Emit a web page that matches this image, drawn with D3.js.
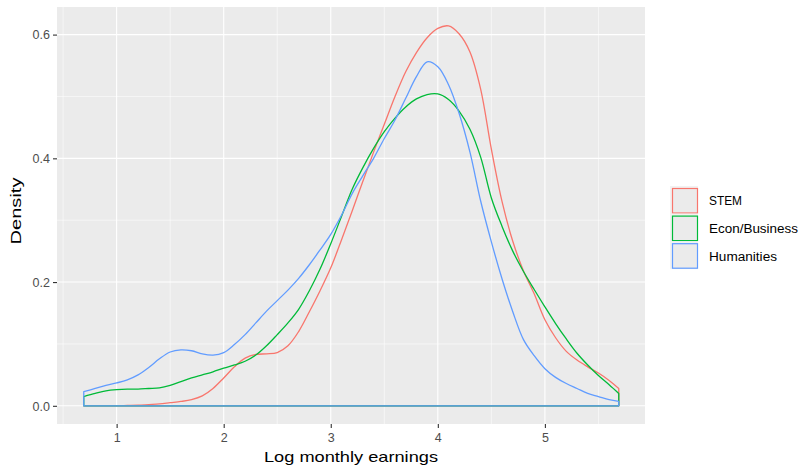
<!DOCTYPE html>
<html>
<head>
<meta charset="utf-8">
<script src="https://cdn.jsdelivr.net/npm/d3@7"></script>
<style>
  html, body { margin: 0; padding: 0; background: #ffffff; }
  svg { display: block; font-family: "Liberation Sans", Arial, Helvetica, sans-serif; }
</style>
</head>
<body>
<svg id="chart" width="803" height="468"></svg>
<script>
// ---------------- data ----------------
const categories = ["STEM", "Econ/Business", "Humanities"];
const colors = ["#F8766D", "#00BA38", "#619CFF"];

const xGrid = [0.693, 0.8, 0.9, 1.0, 1.1, 1.2, 1.3, 1.4, 1.5, 1.6, 1.7, 1.8, 1.9, 2.0,
  2.1, 2.2, 2.3, 2.4, 2.5, 2.6, 2.7, 2.8, 2.9, 3.0, 3.1, 3.2, 3.3, 3.4, 3.5, 3.6,
  3.7, 3.8, 3.9, 4.0, 4.1, 4.2, 4.3, 4.4, 4.5, 4.6, 4.7, 4.8, 4.9, 5.0, 5.1, 5.2,
  5.3, 5.4, 5.5, 5.6, 5.69];

const stemDensity = [0.0, 0.0, 0.0, 0.0, 0.0005, 0.001, 0.002, 0.003, 0.005, 0.007,
  0.010, 0.016, 0.028, 0.045, 0.063, 0.077, 0.083, 0.084, 0.086, 0.097, 0.120,
  0.152, 0.186, 0.223, 0.268, 0.315, 0.363, 0.410, 0.455, 0.500, 0.540, 0.571,
  0.595, 0.610, 0.614, 0.601, 0.572, 0.512, 0.415, 0.330, 0.266, 0.218, 0.181,
  0.139, 0.110, 0.088, 0.074, 0.063, 0.053, 0.041, 0.028];

const econDensity = [0.015, 0.020, 0.024, 0.026, 0.027, 0.027, 0.028, 0.029, 0.033,
  0.039, 0.045, 0.050, 0.055, 0.061, 0.066, 0.072, 0.082, 0.097, 0.115, 0.134,
  0.156, 0.186, 0.221, 0.262, 0.306, 0.350, 0.385, 0.416, 0.443, 0.465, 0.483,
  0.496, 0.503, 0.504, 0.495, 0.476, 0.447, 0.402, 0.336, 0.290, 0.250, 0.217,
  0.188, 0.160, 0.133, 0.108, 0.085, 0.066, 0.049, 0.034, 0.020];

const humanitiesDensity = [0.023, 0.028, 0.033, 0.037, 0.042, 0.050, 0.062, 0.076,
  0.087, 0.0905, 0.089, 0.084, 0.082, 0.086, 0.099, 0.115, 0.134, 0.153, 0.170,
  0.187, 0.206, 0.228, 0.252, 0.277, 0.308, 0.343, 0.372, 0.400, 0.432, 0.462,
  0.497, 0.532, 0.556, 0.548, 0.519, 0.472, 0.410, 0.331, 0.265, 0.205, 0.152,
  0.107, 0.081, 0.060, 0.046, 0.036, 0.028, 0.020, 0.015, 0.010, 0.007];

const xTicks = [1, 2, 3, 4, 5];
const xMinor = [0.5, 1.5, 2.5, 3.5, 4.5, 5.5];
const yTicks = [0.0, 0.2, 0.4, 0.6];
const yMinor = [0.1, 0.3, 0.5];
const xTitle = "Log monthly earnings";
const yTitle = "Density";

const seriesValues = [stemDensity, econDensity, humanitiesDensity];

// ---------------- layout ----------------
const svg = d3.select("#chart");
const panel = { left: 57, right: 645, top: 7, bottom: 424 };

const x = d3.scaleLinear().domain([0.443, 5.935]).range([panel.left, panel.right]);
const y = d3.scaleLinear().domain([-0.0294, 0.6446]).range([panel.bottom, panel.top]);

// panel background
svg.append("rect")
  .attr("x", panel.left).attr("y", panel.top)
  .attr("width", panel.right - panel.left).attr("height", panel.bottom - panel.top)
  .attr("fill", "#EBEBEB");

// grid
const grid = svg.append("g");
grid.selectAll(".xminor").data(xMinor).join("line")
  .attr("class", "xminor")
  .attr("x1", d => x(d)).attr("x2", d => x(d))
  .attr("y1", panel.top).attr("y2", panel.bottom)
  .attr("stroke", "#ffffff").attr("stroke-width", 0.55);
grid.selectAll(".yminor").data(yMinor).join("line")
  .attr("class", "yminor")
  .attr("y1", d => y(d)).attr("y2", d => y(d))
  .attr("x1", panel.left).attr("x2", panel.right)
  .attr("stroke", "#ffffff").attr("stroke-width", 0.55);
grid.selectAll(".xmajor").data(xTicks).join("line")
  .attr("class", "xmajor")
  .attr("x1", d => x(d)).attr("x2", d => x(d))
  .attr("y1", panel.top).attr("y2", panel.bottom)
  .attr("stroke", "#ffffff").attr("stroke-width", 1.1);
grid.selectAll(".ymajor").data(yTicks).join("line")
  .attr("class", "ymajor")
  .attr("y1", d => y(d)).attr("y2", d => y(d))
  .attr("x1", panel.left).attr("x2", panel.right)
  .attr("stroke", "#ffffff").attr("stroke-width", 1.1);

// density outlines (polygon incl. baseline)
const area = d3.area()
  .x(d => x(d.x))
  .y0(y(0))
  .y1(d => y(d.y))
  .curve(d3.curveCatmullRom.alpha(0.5));

categories.forEach((cat, i) => {
  const pts = xGrid.map((xv, j) => ({ x: xv, y: seriesValues[i][j] }));
  svg.append("path")
    .datum(pts)
    .attr("d", area)
    .attr("fill", "none")
    .attr("stroke", colors[i])
    .attr("stroke-width", 1.3)
    .attr("stroke-linejoin", "round");
});

// axes
const xAxis = d3.axisBottom(x).tickValues(xTicks).tickFormat(d3.format("d"))
  .tickSize(4).tickPadding(3);
const yAxis = d3.axisLeft(y).tickValues(yTicks).tickFormat(d3.format(".1f"))
  .tickSize(4).tickPadding(3);

const gx = svg.append("g").attr("transform", `translate(0,${panel.bottom})`).call(xAxis);
const gy = svg.append("g").attr("transform", `translate(${panel.left},0)`).call(yAxis);
[gx, gy].forEach(g => {
  g.select(".domain").remove();
  g.selectAll(".tick line").attr("stroke", "#333333").attr("stroke-width", 1.1);
  g.selectAll(".tick text")
    .attr("fill", "#4D4D4D")
    .style("font-size", "12.5px")
    .style("font-family", "'Liberation Sans', Arial, sans-serif");
});
gx.selectAll(".tick text").attr("dy", "0.9em");
gy.selectAll(".tick text").attr("dy", "0.35em");

// axis titles
svg.append("text")
  .attr("x", (panel.left + panel.right) / 2)
  .attr("y", 462)
  .attr("text-anchor", "middle")
  .attr("fill", "#000000")
  .style("font-size", "15px")
  .attr("textLength", 174)
  .attr("lengthAdjust", "spacingAndGlyphs")
  .text(xTitle);

svg.append("text")
  .attr("transform", `translate(20.5,211) rotate(-90)`)
  .attr("text-anchor", "middle")
  .attr("fill", "#000000")
  .style("font-size", "15px")
  .attr("textLength", 67)
  .attr("lengthAdjust", "spacingAndGlyphs")
  .text(yTitle);

// legend
const legendWidths = [33, 89, 68];
const legend = svg.append("g").attr("transform", "translate(670,186)");
categories.forEach((cat, i) => {
  const g = legend.append("g").attr("transform", `translate(0,${i * 27.6})`);
  g.append("rect")
    .attr("x", 0).attr("y", 0).attr("width", 28).attr("height", 28)
    .attr("fill", "#F2F2F2");
  g.append("rect")
    .attr("x", 2.5).attr("y", 2.5).attr("width", 25).attr("height", 24.5)
    .attr("fill", "#EBEBEB")
    .attr("stroke", colors[i])
    .attr("stroke-width", 1.2);
  g.append("text")
    .attr("x", 39)
    .attr("y", 15)
    .attr("dy", "0.35em")
    .attr("fill", "#000000")
    .style("font-size", "12.5px")
    .attr("textLength", legendWidths[i])
    .attr("lengthAdjust", "spacingAndGlyphs")
    .text(cat);
});
</script>
</body>
</html>
